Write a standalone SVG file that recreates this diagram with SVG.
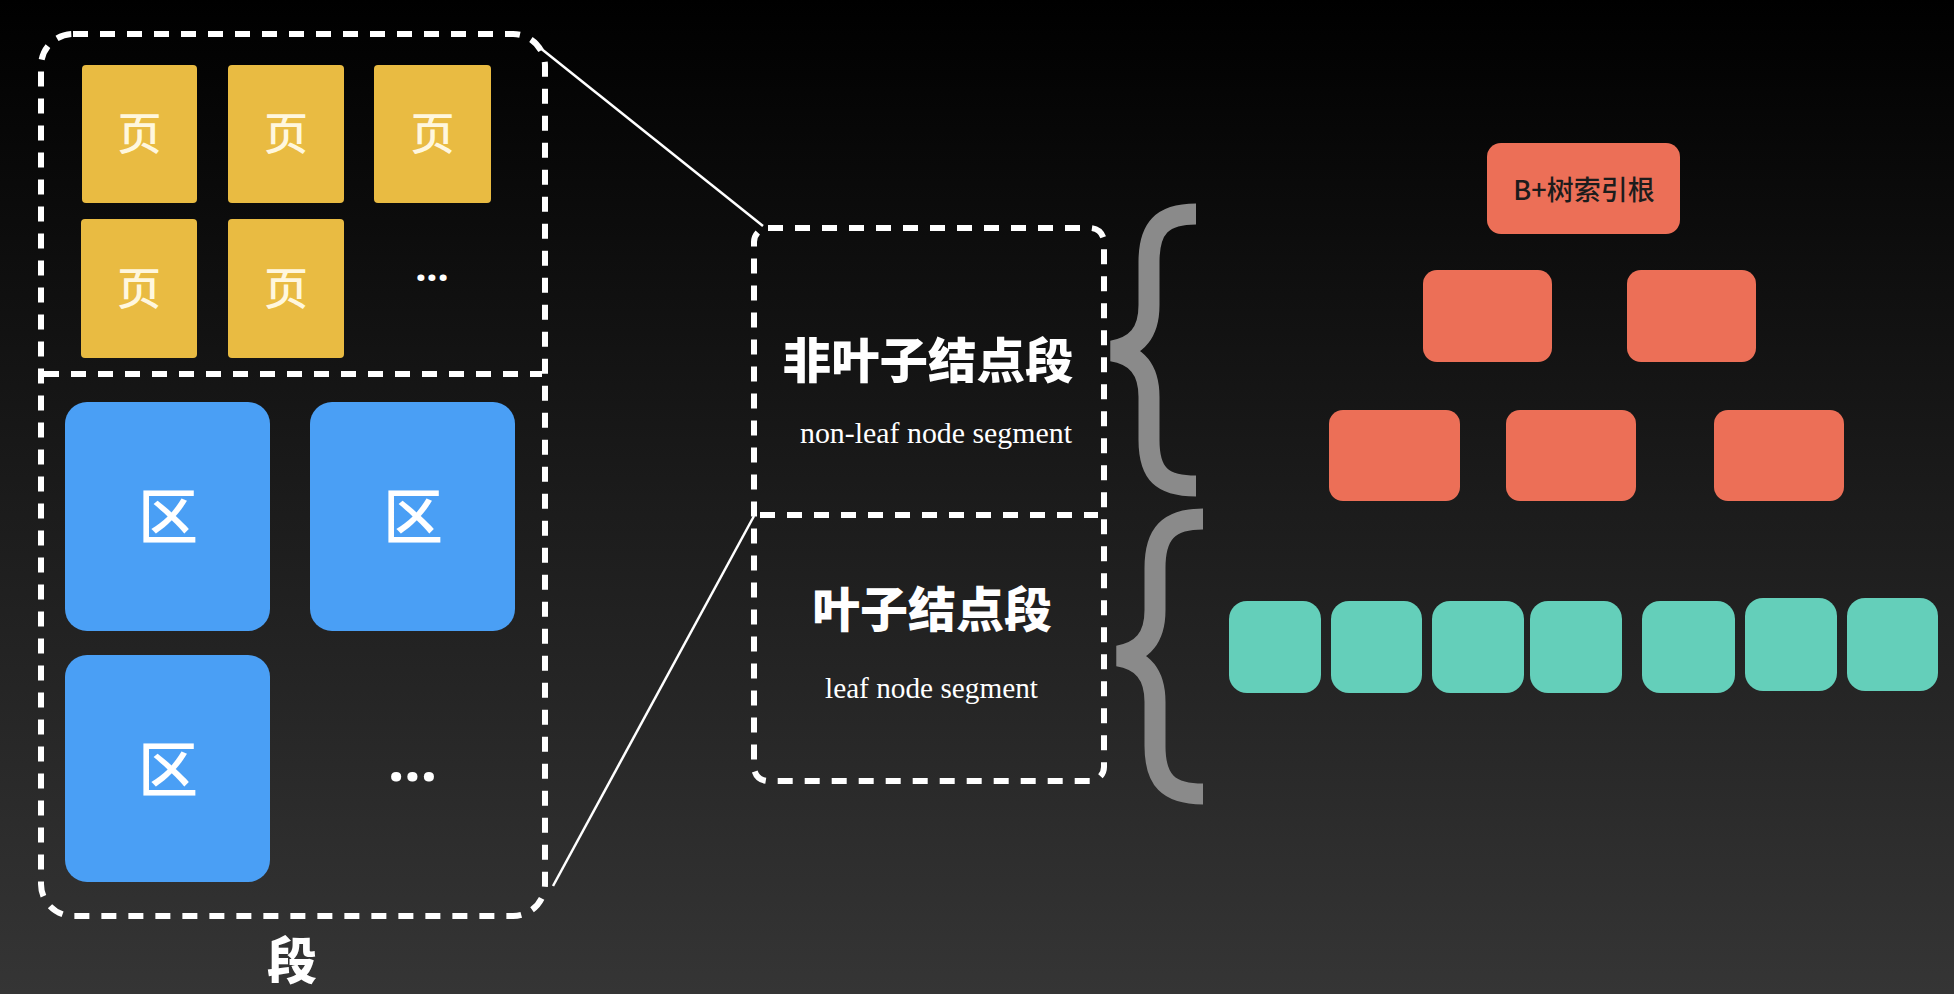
<svg xmlns="http://www.w3.org/2000/svg" width="1954" height="994" viewBox="0 0 1954 994">
<defs>
<linearGradient id="bg" x1="0" y1="0" x2="0" y2="1">
<stop offset="0" stop-color="#000000"/>
<stop offset="0.5" stop-color="#1b1b1b"/>
<stop offset="1" stop-color="#353535"/>
</linearGradient>
<style>
.dash{fill:none;stroke:#ffffff;stroke-width:6;stroke-dasharray:15 12}
.page{fill:#E9BB42}
.zone{fill:#4A9FF5}
.red{fill:#EC6F57}
.teal{fill:#64CFBA}
.pt{font-family:"Noto Sans CJK SC","Noto Sans",sans-serif;font-weight:500;font-size:44px;fill:#FFF7DE;text-anchor:middle}
.zt{font-family:"Noto Sans CJK SC","Noto Sans",sans-serif;font-weight:500;font-size:60px;fill:#ffffff;text-anchor:middle}
.hv{font-family:"Noto Sans CJK SC",sans-serif;font-weight:900;fill:#ffffff;text-anchor:middle}
.en{font-family:"Liberation Serif",serif;font-size:29px;fill:#ffffff}
.dots{font-family:"Noto Sans",sans-serif;font-weight:bold;fill:#ffffff;text-anchor:middle}
.brace{fill:none;stroke:#8a8a8a;stroke-width:21}
.conn{stroke:#ffffff;stroke-width:2.5;fill:none}
</style>
</defs>
<rect x="0" y="0" width="1954" height="994" fill="url(#bg)"/>

<g id="segment">
<rect class="dash" x="41" y="34" width="504" height="882" rx="32"/>
<line class="dash" x1="44" y1="374" x2="542" y2="374"/>
<text class="hv" x="292" y="979" font-size="50">段</text>
</g>

<g id="pages">
<rect class="page" x="82" y="65" width="115" height="138" rx="4"/>
<text class="pt" x="139.5" y="150">页</text>
<rect class="page" x="228" y="65" width="116" height="138" rx="4"/>
<text class="pt" x="286" y="150">页</text>
<rect class="page" x="374" y="65" width="117" height="138" rx="4"/>
<text class="pt" x="432.5" y="150">页</text>
<rect class="page" x="81" y="219" width="116" height="139" rx="4"/>
<text class="pt" x="139" y="305">页</text>
<rect class="page" x="228" y="219" width="116" height="139" rx="4"/>
<text class="pt" x="286" y="305">页</text>
<text class="dots" x="432" y="281" font-size="40">...</text>
</g>

<g id="zones">
<rect class="zone" x="65" y="402" width="205" height="229" rx="22"/>
<text class="zt" x="168" y="539">区</text>
<rect class="zone" x="310" y="402" width="205" height="229" rx="22"/>
<text class="zt" x="413" y="539">区</text>
<rect class="zone" x="65" y="655" width="205" height="227" rx="22"/>
<text class="zt" x="168" y="792">区</text>
<text class="dots" x="412.5" y="781" font-size="58">...</text>
</g>

<g id="connectors">
<line class="conn" x1="539" y1="47" x2="763" y2="226"/>
<line class="conn" x1="553" y1="886" x2="754" y2="516"/>
</g>

<g id="leaf-segments">
<rect class="dash" x="754" y="228" width="350" height="553" rx="14"/>
<line class="dash" x1="760" y1="515" x2="1098" y2="515"/>
<text class="hv" x="928" y="378" font-size="48" textLength="291" lengthAdjust="spacingAndGlyphs">非叶子结点段</text>
<text class="en" x="800" y="443" textLength="272" lengthAdjust="spacingAndGlyphs">non-leaf node segment</text>
<text class="hv" x="932" y="627" font-size="48" textLength="240" lengthAdjust="spacingAndGlyphs">叶子结点段</text>
<text class="en" x="825" y="698" textLength="213" lengthAdjust="spacingAndGlyphs">leaf node segment</text>
</g>

<g id="braces">
<path class="brace" d="M1196 214 C1162 214 1149 228 1149 262 L1149 305 C1149 333 1136 347 1112 351 C1136 355 1149 369 1149 397 L1149 440 C1149 474 1162 486 1196 486"/>
<path class="brace" d="M1203 519 C1168 519 1155 534 1155 568 L1155 610 C1155 638 1142 652 1118 656 C1142 660 1155 674 1155 702 L1155 746 C1155 780 1168 794 1203 794"/>
</g>

<g id="btree">
<g id="root">
<rect class="red" x="1487" y="143" width="193" height="91" rx="14"/>
<text x="1584" y="200" font-family="'Noto Sans CJK SC','Noto Sans',sans-serif" font-weight="500" font-size="27" fill="#1c1c1c" text-anchor="middle">B+树索引根</text>
</g>
<rect id="n21" class="red" x="1423" y="270" width="129" height="92" rx="14"/>
<rect id="n22" class="red" x="1627" y="270" width="129" height="92" rx="14"/>
<rect id="n31" class="red" x="1329" y="410" width="131" height="91" rx="14"/>
<rect id="n32" class="red" x="1506" y="410" width="130" height="91" rx="14"/>
<rect id="n33" class="red" x="1714" y="410" width="130" height="91" rx="14"/>
</g>

<g id="leaves">
<rect class="teal" x="1229" y="601" width="92" height="92" rx="18"/>
<rect class="teal" x="1331" y="601" width="91" height="92" rx="18"/>
<rect class="teal" x="1432" y="601" width="92" height="92" rx="18"/>
<rect class="teal" x="1530" y="601" width="92" height="92" rx="18"/>
<rect class="teal" x="1642" y="601" width="93" height="92" rx="18"/>
<rect class="teal" x="1745" y="598" width="92" height="93" rx="18"/>
<rect class="teal" x="1847" y="598" width="91" height="93" rx="18"/>
</g>
</svg>
